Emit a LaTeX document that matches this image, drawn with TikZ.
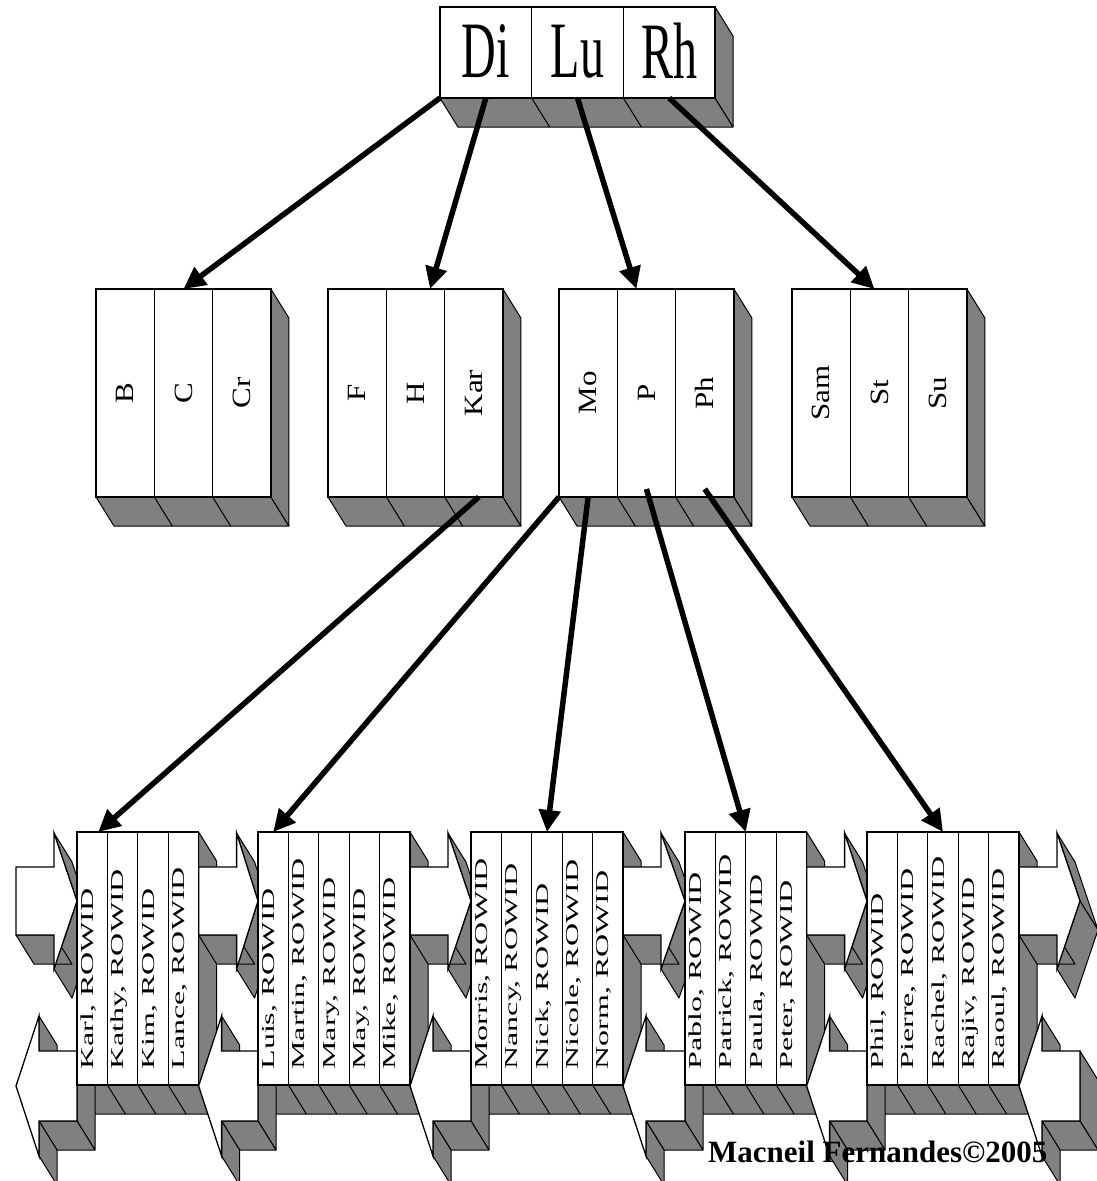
\documentclass[tikz,border=0pt]{standalone}
\usepackage{fontspec}
\setmainfont{Liberation Serif}
\usepackage{graphicx}
\usetikzlibrary{arrows.meta,positioning,calc,backgrounds}
\definecolor{shade}{HTML}{808080}

% block arrows of the leaf chain, placed at the top right corner of a leaf
\tikzset{
  pics/links/.style={code={
    % pointing right
    \filldraw[side] (38,1) -- (#1,69) -- ({#1+18},98) -- (56,30) -- cycle;
    \filldraw[side] (#1,69) -- (38,137) -- (56,166) -- ({#1+18},98) -- cycle;
    \filldraw[side] (0,103) -- (38,103) -- (56,132) -- (18,132) -- cycle;
    \filldraw[face] (0,35) -- (38,35) -- (38,1) -- (#1,69) -- (38,137) -- (38,103) -- (0,103) -- cycle;
    % pointing left
    \filldraw[side] (23,184) -- (23,219) -- (41,248) -- (41,213) -- cycle;
    \filldraw[side] (#1,219) -- (#1,289) -- ({#1+18},318) -- ({#1+18},248) -- cycle;
    \filldraw[side] (23,289) -- (#1,289) -- ({#1+18},318) -- (41,318) -- cycle;
    \filldraw[side] (23,289) -- (23,324) -- (41,353) -- (41,318) -- cycle;
    \filldraw[face] (0,254) -- (23,184) -- (23,219) -- (#1,219) -- (#1,289) -- (23,289) -- (23,324) -- cycle;
  }}
}

% bottom and right faces of a row of cells
\newcommand{\slab}[2]{%
  \filldraw[side] (#1.south west) -- (#2.south east) -- ++(18,29) -- ($(#1.south west)+(18,29)$) -- cycle;
  \filldraw[side] (#2.north east) -- ++(18,29) -- ($(#2.south east)+(18,29)$) -- (#2.south east) -- cycle;
}
\newcommand{\keyrow}[2]{%
  \foreach \name/\txt [count=\i from 0] in {#2}
    \node[keycell] (\name) at ({#1+29.15+58.3*\i},393) {\rotatebox{90}{\scalebox{1}[0.85]{\txt}}};
}
\newcommand{\leafrow}[2]{%
  \foreach \name/\txt [count=\i from 0] in {#2}
    \node[leafcell] (\name) at ({#1+15.2+30.4*\i},958.5)
      {\rotatebox{90}{\makebox[222pt][l]{\raisebox{0pt}[11pt][9pt]{\scalebox{1}[0.57]{\txt, ROWID}}}}};
}

\begin{document}
\begin{tikzpicture}[x=1pt,y=-1pt,
  cell/.style={draw,line width=1.3pt,fill=white,inner sep=0pt,outer sep=0pt},
  rootcell/.style={cell,minimum width=91.7pt,minimum height=91pt,font=\fontsize{80}{80}\selectfont},
  keycell/.style={cell,minimum width=58.3pt,minimum height=208pt,font=\fontsize{31}{31}\selectfont},
  leafcell/.style={cell,minimum width=30.4pt,minimum height=253pt,font=\fontsize{32}{32}\selectfont},
  side/.style={fill=shade,draw=black,line width=1pt,line join=round},
  face/.style={fill=white,draw=black,line width=1.3pt},
  seam/.style={draw=black,line width=1pt},
  link/.style={-{Triangle[length=22pt,width=21pt]},line width=5.5pt},
  credit/.style={font=\fontsize{31}{31}\selectfont\bfseries,inner sep=0pt},
]
  \useasboundingbox (0,0) rectangle (1096,1181);

  % root
  \node[rootcell] (di) at (485.8,52.5) {\raisebox{3pt}{\scalebox{0.6}[1]{Di}}};
  \node[rootcell,right=0pt of di] (lu) {\raisebox{3pt}{\scalebox{0.6}[1]{Lu}}};
  \node[rootcell,right=0pt of lu] (rh) {\raisebox{3pt}{\scalebox{0.6}[1]{Rh}}};

  % branch blocks
  \keyrow{96}{b/B,c/C,cr/Cr}
  \keyrow{328}{f/F,h/H,kar/Kar}
  \keyrow{559}{mo/Mo,p/P,ph/Ph}
  \keyrow{792}{sam/Sam,st/St,su/Su}

  % leaf blocks
  \leafrow{77}{karl/Karl,kathy/Kathy,kim/Kim,lance/Lance}
  \leafrow{258}{luis/Luis,martin/Martin,mary/Mary,may/May,mike/Mike}
  \leafrow{471}{morris/Morris,nancy/Nancy,nick/Nick,nicole/Nicole,norm/Norm}
  \leafrow{685}{pablo/Pablo,patrick/Patrick,paula/Paula,peter/Peter}
  \leafrow{867}{phil/Phil,pierre/Pierre,rachel/Rachel,rajiv/Rajiv,raoul/Raoul}

  \begin{scope}[on background layer]
    \slab{di}{rh}
    \slab{b}{cr} \slab{f}{kar} \slab{mo}{ph} \slab{sam}{su}
    \slab{karl}{lance} \slab{luis}{mike} \slab{morris}{norm}
    \slab{pablo}{peter} \slab{phil}{raoul}
    \foreach \c in {di,lu,b,c,f,h,mo,p,sam,st,karl,kathy,kim,luis,martin,mary,may,
        morris,nancy,nick,nicole,pablo,patrick,paula,phil,pierre,rachel,rajiv}
      \draw[seam] (\c.south east) -- ++(18,29);
    \pic at (16,832) {links=61};
    \pic at (lance.north east) {links=59.4};
    \pic at (mike.north east) {links=61};
    \pic at (norm.north east) {links=62};
    \pic at (peter.north east) {links=60.4};
    \pic at (raoul.north east) {links=61};
  \end{scope}

  \draw[link] (di.south west) -- (c.north);
  \draw[link] (di.south) -- ($(h.north)!0.5!(h.north east)$);
  \draw[link] (lu.south) -- ($(p.north)+(-10,0)$);
  \draw[link] (rh.south) -- ($(st.north)+(-5,0)$);
  \draw[link] ($(kar.south)+(5,0)$) -- ($(karl.north)+(6,0)$);
  \draw[link] (mo.south west) -- (luis.north);
  \draw[link] (mo.south) -- (nick.north);
  \draw[link] ($(p.south)+(0,-8)$) -- (patrick.north east);
  \draw[link] ($(ph.south)+(0,-8)$) -- (rachel.north);

  \node[credit,anchor=base west] (sign) at (708,1162) {Macneil Fernandes©2005};
\end{tikzpicture}
\end{document}
